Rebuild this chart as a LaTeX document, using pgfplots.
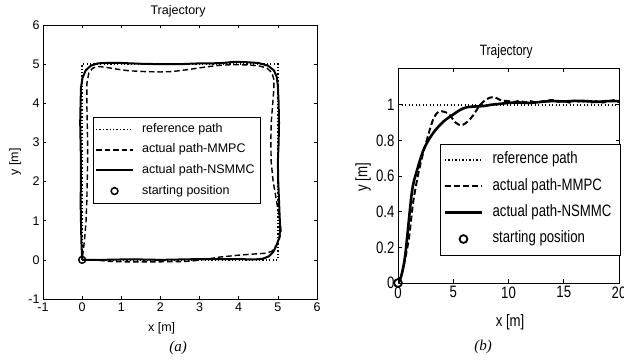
\documentclass[border=0pt]{standalone}
\usepackage{pgfplots}
\pgfplotsset{compat=1.18}
\usepackage{fontspec}
\setmainfont{Liberation Sans}
\newfontfamily\narrowsans[FakeStretch=0.8]{Liberation Sans}
\newfontfamily\timesfont{Liberation Serif}
\newcommand\fa{\fontsize{12.5bp}{15bp}\selectfont}
\newcommand\fb{\narrowsans\fontsize{16.5bp}{19bp}\selectfont}
\pgfplotsset{
  every axis title shift=0pt,
  longline/.style={legend image code/.code={\draw[##1] (0bp,0bp) -- (37bp,0bp); \path (41bp,0bp);}},
  markonly/.style={legend image code/.code={\draw[##1] plot coordinates {(18.5bp,0bp)}; \path (0bp,0bp) (41bp,0bp);}},
}
\begin{document}
\begin{tikzpicture}
% ---------------- (a) ----------------
\begin{axis}[at={(43bp,63bp)}, anchor=south west, scale only axis,
  width=274bp, height=274bp,
  xmin=-1, xmax=6, ymin=-1, ymax=6,
  xtick={-1,0,1,2,3,4,5,6}, ytick={-1,0,1,2,3,4,5,6},
  /pgf/number format/assume math mode=true,
  tick label style={font=\fa},
  major tick length=3bp, axis line style={line width=0.9bp},
  tick style={line width=0.6bp, black},
  xlabel={x [m]}, ylabel={y [m]},
  xlabel style={font=\fa, at={(axis description cs:0.433,-0.106)}, anchor=center},
  ylabel style={font=\fa, at={(axis description cs:-0.102,0.5)}, anchor=center, rotate=0},
  title={Trajectory},
  title style={font=\fa, at={(axis description cs:0.493,1.049)}, anchor=center, yshift=0pt},
  legend cell align=left,
  legend style={font=\fa, at={(axis description cs:0.182,0.664)}, anchor=north west,
    draw=black, inner sep=2bp, row sep=0.6bp,
    nodes={text height=9bp, text depth=3bp, inner sep=4bp}},
]
\addplot[black, line width=1.3bp, dash pattern=on 1.3bp off 2.1bp, longline]
  coordinates {(0,0) (5,0) (5,5) (0,5) (0,0)};
\addlegendentry{reference path}
\addplot[black, line width=1.4bp, dash pattern=on 5.5bp off 3bp, longline]
  coordinates {(0,0) (0.3,0) (0.7,-0.04) (1.1,-0.05) (1.5,-0.05) (2,-0.05) (2.5,-0.045) (2.8,-0.03)
  (3.2,0.02) (3.5,0.07) (4,0.12) (4.4,0.15) (4.7,0.17) (4.85,0.22) (4.95,0.35) (5.03,0.5)
  (5.08,0.72) (5.06,1.0) (5.0,1.3) (4.95,1.6) (4.88,2) (4.83,2.5) (4.82,3) (4.83,3.5)
  (4.87,4.0) (4.9,4.4) (4.9,4.6) (4.85,4.78) (4.72,4.9) (4.5,4.96) (4.2,4.98) (3.9,4.99)
  (3.5,4.97) (3.1,4.92) (2.7,4.86) (2.3,4.81) (2,4.8) (1.6,4.81) (1.2,4.83) (0.9,4.87)
  (0.6,4.92) (0.42,4.94) (0.27,4.9) (0.17,4.77) (0.12,4.5) (0.12,4) (0.13,3.5) (0.14,3)
  (0.14,2.5) (0.13,2) (0.12,1.5) (0.1,1) (0.06,0.5) (0.03,0.25) (0,0)};
\addlegendentry{actual path-MMPC}
\addplot[black, line width=2bp, longline]
  coordinates {(0,0) (0.5,0) (1,0.01) (1.5,0.01) (2,0.0) (2.5,0.01) (3,0.02) (3.5,0.02) (4,0.02)
  (4.4,0.01) (4.62,0.03) (4.77,0.09) (4.88,0.2) (4.97,0.38) (5.04,0.58) (5.06,0.8) (5.05,1.0)
  (5.03,1.5) (5.01,2) (5.0,2.5) (5.02,3) (5.03,3.5) (5.02,4) (5.0,4.45) (4.97,4.68)
  (4.9,4.84) (4.75,4.96) (4.5,5.03) (4.2,5.05) (3.9,5.06) (3.6,5.03) (3.3,5.02) (3,5.02)
  (2.5,5.0) (2,5.0) (1.5,5.01) (1,5.03) (0.6,5.03) (0.4,5.02) (0.22,4.96) (0.09,4.84)
  (0.01,4.65) (-0.03,4.4) (-0.04,4) (-0.05,3.5) (-0.04,3) (-0.03,2.5) (-0.03,2) (-0.04,1.5)
  (-0.03,1) (-0.02,0.5) (0,0)};
\addlegendentry{actual path-NSMMC}
\addplot[black, only marks, mark=o, mark size=3.4bp, line width=1.5bp, markonly]
  coordinates {(0,0)};
\addlegendentry{starting position}
\end{axis}
% ---------------- (b) ----------------
\begin{axis}[at={(398bp,79bp)}, anchor=south west, scale only axis,
  width=221bp, height=214bp,
  xmin=0, xmax=20, ymin=0, ymax=1.2,
  xtick={0,5,10,15,20}, ytick={0,0.2,0.4,0.6,0.8,1},
  yticklabels={0,0.2,0.4,0.6,0.8,1},
  /pgf/number format/assume math mode=true,
  tick label style={font=\fb},
  major tick length=3.5bp, axis line style={line width=1bp},
  tick style={line width=0.7bp, black},
  xlabel={x [m]}, ylabel={y [m]},
  xlabel style={font=\fb, at={(axis description cs:0.507,-0.181)}, anchor=center},
  ylabel style={font=\fb, at={(axis description cs:-0.158,0.495)}, anchor=center, rotate=0},
  title={Trajectory},
  title style={font=\narrowsans\fontsize{15bp}{18bp}\selectfont, at={(axis description cs:0.49,1.081)}, anchor=center, yshift=0pt},
  legend cell align=left,
  legend style={font=\fb, at={(axis description cs:0.19,0.65)}, anchor=north west,
    draw=black, inner sep=3.5bp, row sep=1.2bp,
    nodes={text height=11bp, text depth=3.5bp, inner sep=5.3bp}},
]
\addplot[black, line width=1.7bp, dash pattern=on 1.4bp off 2.1bp, longline]
  coordinates {(0,1) (20,1)};
\addlegendentry{reference path}
\addplot[black, line width=2bp, dash pattern=on 6bp off 3bp, smooth, tension=0.5, longline]
  coordinates {(0,0) (0.36,0.056) (0.96,0.24) (1.4,0.465) (2.0,0.66) (2.6,0.80) (3.2,0.92)
  (3.75,0.962) (4.55,0.95) (5.2,0.9) (5.75,0.884) (6.3,0.905) (6.8,0.94) (7.4,0.996)
  (8.0,1.03) (8.65,1.043) (9.35,1.024) (10,1.02) (10.5,1.015) (11,1.022) (11.5,1.012)
  (12,1.02) (12.5,1.01) (13,1.018) (13.5,1.022) (14,1.026) (14.5,1.016) (15,1.022)
  (15.5,1.012) (16,1.022) (16.5,1.015) (17,1.02) (17.5,1.012) (18,1.02) (18.5,1.012)
  (19,1.018) (19.5,1.025) (20,1.015)};
\addlegendentry{actual path-MMPC}
\addplot[black, line width=2.6bp, smooth, tension=0.5, longline]
  coordinates {(0,0) (0.3,0.04) (0.66,0.16) (1.26,0.51) (1.71,0.63) (2.3,0.745) (2.9,0.815)
  (3.5,0.866) (4.2,0.91) (5.0,0.945) (5.6,0.97) (6.2,0.985) (7,0.99) (7.7,0.992)
  (8.5,1.0) (9.3,1.005) (10,1.01) (11,1.012) (12,1.01) (13,1.016) (14,1.02) (15,1.018)
  (16,1.021) (17,1.02) (18,1.016) (19,1.02) (20,1.02)};
\addlegendentry{actual path-NSMMC}
\addplot[black, only marks, mark=o, mark size=3.9bp, line width=1.8bp, markonly]
  coordinates {(0,0)};
\addlegendentry{starting position}
\end{axis}
\node[font=\timesfont\itshape\fontsize{15bp}{18bp}\selectfont] at (178bp,14bp) {(a)};
\node[font=\timesfont\itshape\fontsize{15bp}{18bp}\selectfont] at (483bp,15bp) {(b)};
\pgfresetboundingbox
\useasboundingbox (0bp,0bp) rectangle (624bp,362bp);
\end{tikzpicture}
\end{document}
